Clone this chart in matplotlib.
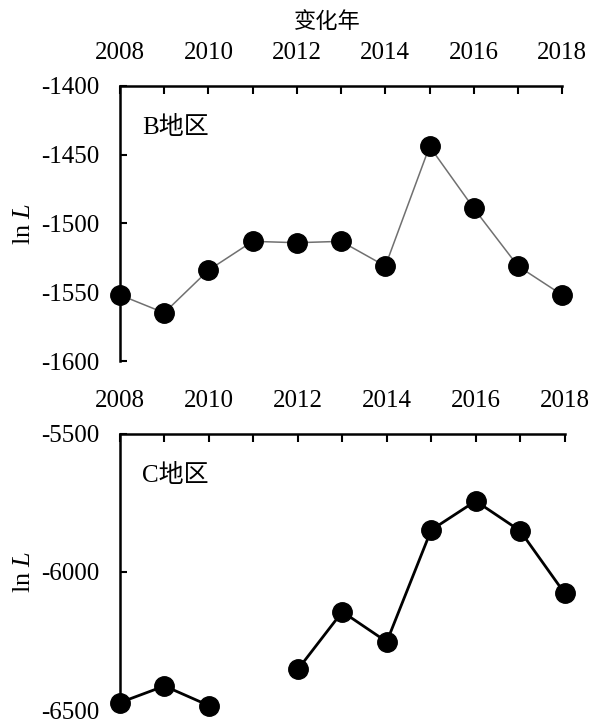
import numpy as np
import matplotlib.pyplot as plt
from matplotlib.ticker import MultipleLocator

plt.rcParams["font.family"] = ["Liberation Serif", "Noto Sans CJK SC"]
plt.rcParams["axes.unicode_minus"] = False
plt.rcParams["mathtext.fontset"] = "custom"
plt.rcParams["mathtext.rm"] = "Liberation Serif"
plt.rcParams["mathtext.it"] = "Liberation Serif:italic"

years = np.arange(2008, 2019)

# log-likelihood per year, region B
lnL_b = [-1552, -1565, -1534, -1513, -1514, -1513, -1531, -1444, -1489, -1531, -1552]
# region C (no estimate for 2011)
lnL_c = [-6473, -6413, -6484, np.nan, -6353, -6144, -6253, -5848, -5743, -5851, -6077]

fig = plt.figure(figsize=(5.92, 7.22), dpi=100)
ax_b = fig.add_axes([0.2027, 0.5, 0.747, 0.381])
ax_c = fig.add_axes([0.2027, 0.0166, 0.751, 0.3824])


def style_axis(ax, ylim, ystep):
    ax.set_xlim(2008, 2018)
    ax.set_ylim(*ylim)
    ax.yaxis.set_major_locator(MultipleLocator(ystep))
    ax.xaxis.set_major_locator(MultipleLocator(2))
    ax.xaxis.set_minor_locator(MultipleLocator(1))
    for side in ["right", "bottom"]:
        ax.spines[side].set_visible(False)
    for side in ["top", "left"]:
        ax.spines[side].set_linewidth(1.8)
    ax.xaxis.tick_top()
    ax.tick_params(axis="x", which="both", direction="in", length=5.5, width=1.5,
                   pad=16, labelsize=18)
    ax.tick_params(axis="x", which="minor", labeltop=False)
    ax.tick_params(axis="y", direction="in", length=5, width=1.5, pad=15, labelsize=18)
    ax.set_ylabel(r"$\mathrm{ln}\ L$", fontsize=19, labelpad=4)


ax_b.plot(years, lnL_b, color="#707070", lw=1.1, marker="o", ms=14,
          mfc="black", mec="black", clip_on=False, zorder=3)
style_axis(ax_b, (-1600, -1400), 50)
ax_b.text(0.05, 0.85, "B地区", transform=ax_b.transAxes, fontsize=18, va="center")

ax_c.plot(years, lnL_c, color="black", lw=2, marker="o", ms=14,
          mfc="black", mec="black", clip_on=False, zorder=3)
style_axis(ax_c, (-6500, -5500), 500)
ax_c.text(0.05, 0.85, "C地区", transform=ax_c.transAxes, fontsize=18, va="center")

fig.text(327 / 592, 1 - 22 / 722, "变化年", ha="center", va="center", fontsize=16,
         family="Noto Sans CJK SC")

fig.savefig("out.png", dpi=100)
